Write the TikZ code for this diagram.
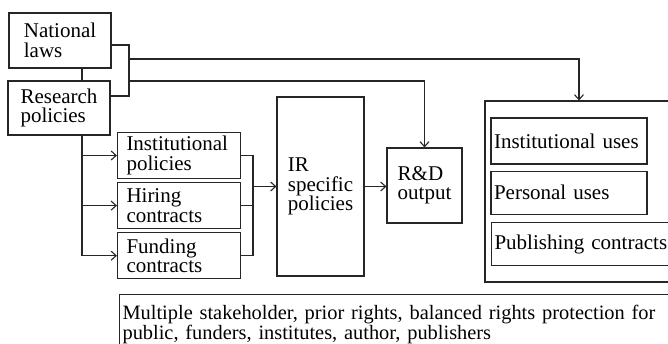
\documentclass[tikz,border=0pt]{standalone}
\usepackage{fontspec}
\setmainfont{Liberation Serif}
\usetikzlibrary{positioning,arrows.meta}
\tikzstyle{box} = [rectangle, draw=black!85, line width=1.1pt, align=left,
    inner sep=3pt, font=\fontsize{21}{19.5}\selectfont]
\tikzstyle{sub} = [box, text width=105pt, inner xsep=9pt, minimum height=46pt]
\tikzstyle{line} = [draw=black!85, line width=1.1pt]
\tikzstyle{arrow} = [draw=black!85, line width=1.1pt, ->, >={Straight Barb[length=5pt,width=9pt]}]

\begin{document}
\begin{tikzpicture}[x=1pt, y=-1pt]
        \useasboundingbox (0,0) rectangle (668,344);
        \clip (0,0) rectangle (668,344);
        % sources
        \node (laws) [box, minimum width=102pt, minimum height=55pt] at (60,40.5) {National\\laws};
        \node (research) [box, minimum width=102pt, minimum height=54pt] at (59,108) {Research\\policies};
        % institutional level
        \node (instpol) [sub] at (179,155.5) {Institutional\\policies};
        \node (hiring) [sub, below=3pt of instpol] {Hiring\\contracts};
        \node (funding) [sub, below=3pt of hiring] {Funding\\contracts};
        \node (irpol) [box, minimum width=87pt, minimum height=179pt] at (320.5,186.5) {IR\\specific\\policies};
        \node (rnd) [box, minimum width=75pt, minimum height=75pt] at (424.5,185.5) {R\&D\\output};
        % uses
        \node (uses) [box, minimum width=188pt, minimum height=181pt] at (579,191.5) {};
        \node (instuses) [box, text width=150pt, minimum height=46pt] at (569,141) {Institutional uses};
        \node (persuses) [box, text width=150pt, minimum height=43pt, below=6pt of instuses] {Personal uses};
        \node (pubcon) [box, text width=200pt, minimum height=43pt, anchor=north west] at (491,222) {Publishing contracts};
        \node (stake) [box, text width=600pt, minimum height=60pt, anchor=north west,
            font=\fontsize{20.4}{15}\selectfont] at (119,294)
            {Multiple stakeholder, prior rights, balanced rights protection for\\public, funders, institutes, author, publishers};
        % junctions
        \coordinate (trunk) at (82,0);
        \coordinate (bk) at (129,70);
        \coordinate (upper) at (129,59);
        \coordinate (lower) at (129,81);
        \coordinate (rb) at (253,0);
        % connectors
        \draw [line] (laws.south -| trunk) -- (research.north -| trunk);
        \draw [line] ([yshift=-4.5pt]laws.east) -| (bk) |- ([yshift=12pt]research.east);
        \draw [arrow] (upper) -| (uses.north);
        \draw [arrow] (lower) -| (rnd.north);
        \draw [arrow] (research.south -| trunk) |- (funding.west);
        \draw [arrow] (trunk |- instpol.west) -- (instpol.west);
        \draw [arrow] (trunk |- hiring.west) -- (hiring.west);
        \draw [line] (instpol.east) -| (rb |- funding.east) -- (funding.east);
        \draw [line] (hiring.east) -- (hiring.east -| rb);
        \draw [arrow] (rb |- irpol.west) -- (irpol.west);
        \draw [arrow] (irpol.east) -- (irpol.east -| rnd.west);
\end{tikzpicture}
\end{document}
